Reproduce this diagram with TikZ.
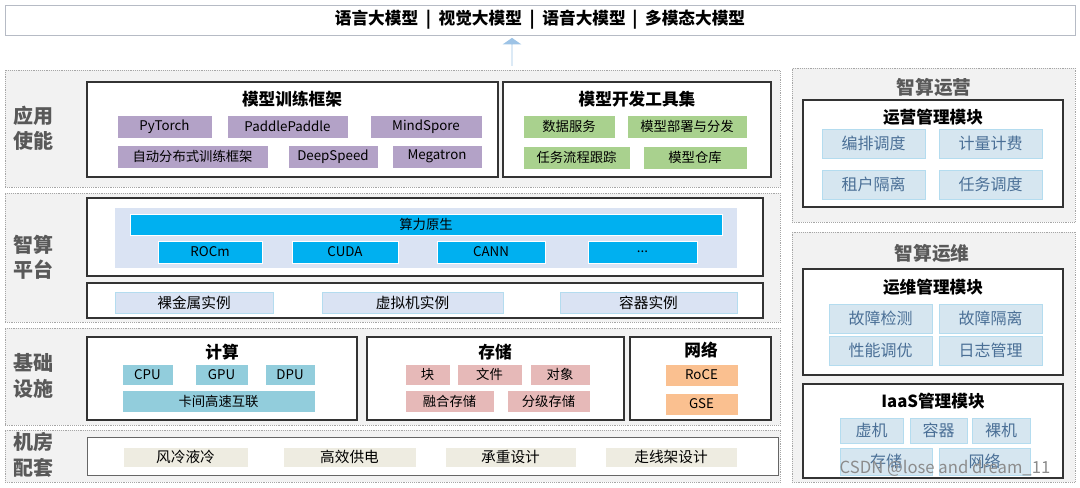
\documentclass[tikz,border=0pt]{standalone}
\usepackage{fontspec}
\setmainfont{Noto Sans CJK SC}
\usetikzlibrary{shapes.arrows}
\definecolor{panel}{HTML}{F2F2F2}
\definecolor{purp}{HTML}{B3A2C7}
\definecolor{grn}{HTML}{A9D18E}
\definecolor{lb}{HTML}{DAE3F3}
\definecolor{cyan}{HTML}{00B0F0}
\definecolor{teal}{HTML}{92CDDC}
\definecolor{pink}{HTML}{E6B9B8}
\definecolor{orng}{HTML}{FAC090}
\definecolor{beige}{HTML}{EEECE1}
\definecolor{ritem}{HTML}{D6E6F0}
\definecolor{rbord}{HTML}{B4DCEF}
\definecolor{rtext}{HTML}{4A6F96}
\definecolor{lab}{HTML}{595959}
\definecolor{arr}{HTML}{9DC3E6}
\tikzset{
 panel/.style={draw=gray!70,densely dotted,fill=panel},
 box/.style={draw=black!80,line width=0.9pt,fill=white},
 it/.style={font=\fontsize{10}{12}\selectfont},
 pu/.style={it,fill=purp,draw=white},
 gr/.style={it,fill=grn,draw=white},
 cy/.style={it,fill=cyan,draw=white},
 lbx/.style={it,fill=lb,draw=rbord,font=\fontsize{11}{13}\selectfont},
 te/.style={it,fill=teal,draw=white},
 pk/.style={it,fill=pink,draw=white},
 og/.style={it,fill=orng,draw=white},
 be/.style={fill=beige,draw=white,font=\fontsize{11}{13}\selectfont},
 ri/.style={fill=ritem,draw=rbord,text=rtext,font=\fontsize{12}{14}\selectfont},
 ttl/.style={font=\bfseries\fontsize{12.5}{14}\selectfont},
 lyr/.style={font=\bfseries\fontsize{15}{19}\selectfont,text=lab,align=center},
 rt/.style={font=\bfseries\fontsize{14}{16}\selectfont,text=lab},
}
\newcommand\bx[7]{\node[#6,inner sep=0pt,minimum width={(#4-#2)*0.75pt},minimum height={(#5-#3)*0.75pt}] (#1) at ({(#2+#4)/2},{(#3+#5)/2}) {#7};}
\begin{document}
\begin{tikzpicture}[x=0.75pt,y=-0.75pt]
\useasboundingbox (0,0) rectangle (1080,488);
% top
\bx{top}{5}{5}{1075}{35}{draw=lb!60!gray,fill=white}{\bfseries\fontsize{12.5}{14}\selectfont 语言大模型 \ | \ 视觉大模型 \ | \ 语音大模型 \,| \ 多模态大模型}
\node[single arrow,shape border rotate=90,fill=arr,draw=none,minimum width=14pt,single arrow head extend=4.5pt,single arrow head indent=0pt,minimum height=21pt,inner sep=0pt,single arrow tip angle=110] (up) at (512,52) {};
% left panels
\bx{p1}{5}{70}{780}{187}{panel}{}
\bx{p2}{5}{193}{780}{322}{panel}{}
\bx{p3}{5}{328}{780}{425}{panel}{}
\bx{p4}{5}{430}{780}{482}{panel}{}
\node[lyr] (l1) at (33,128) {应用\\使能};
\node[lyr] (l2) at (33,257) {智算\\平台};
\node[lyr] (l3) at (33,376) {基础\\设施};
\node[lyr] (l4) at (33,455) {机房\\配套};
% app
\bx{b1}{87}{82}{498}{177}{box}{}
\node[ttl] (t1) at (292,99) {模型训练框架};
\bx{a1}{117}{115}{212}{138}{pu}{PyTorch}
\bx{a2}{227}{115}{348}{138}{pu}{PaddlePaddle}
\bx{a3}{370}{115}{482}{138}{pu}{MindSpore}
\bx{a4}{117}{145}{268}{168}{pu}{自动分布式训练框架}
\bx{a5}{288}{145}{378}{168}{pu}{DeepSpeed}
\bx{a6}{392}{145}{482}{168}{pu}{Megatron}
\bx{b2}{503}{82}{771}{177}{box}{}
\node[ttl] (t2) at (637,99) {模型开发工具集};
\bx{g1}{523}{115}{615}{138}{gr}{数据服务}
\bx{g2}{627}{115}{747}{138}{gr}{模型部署与分发}
\bx{g3}{523}{146}{630}{169}{gr}{任务流程跟踪}
\bx{g4}{643}{146}{747}{169}{gr}{模型仓库}
% platform
\bx{b3}{87}{198}{763}{276}{box}{}
\bx{lp}{115}{208}{737}{268}{fill=lb,draw=none}{}
\bx{c0}{130}{214}{722}{235}{cy}{算力原生}
\bx{c1}{158}{241}{262}{263}{cy}{ROCm}
\bx{c2}{292}{241}{398}{263}{cy}{CUDA}
\bx{c3}{437}{241}{545}{263}{cy}{CANN}
\bx{c4}{588}{241}{697}{263}{cy}{...}
\bx{b4}{87}{283}{763}{318}{box}{}
\bx{i1}{115}{292}{273}{313}{lbx}{裸金属实例}
\bx{i2}{322}{292}{503}{313}{lbx}{虚拟机实例}
\bx{i3}{560}{292}{737}{313}{lbx}{容器实例}
% infra
\bx{b5}{87}{337}{357}{420}{box}{}
\node[ttl] (t5) at (222,352) {计算};
\bx{s1}{122}{364}{173}{385}{te}{CPU}
\bx{s2}{195}{364}{248}{385}{te}{GPU}
\bx{s3}{265}{364}{315}{385}{te}{DPU}
\bx{s4}{122}{390}{315}{412}{te}{卡间高速互联}
\bx{b6}{367}{337}{624}{420}{box}{}
\node[ttl] (t6) at (495,352) {存储};
\bx{k1}{405}{364}{450}{385}{pk}{块}
\bx{k2}{457}{364}{522}{385}{pk}{文件}
\bx{k3}{530}{364}{590}{385}{pk}{对象}
\bx{k4}{405}{390}{494}{412}{pk}{融合存储}
\bx{k5}{507}{390}{590}{412}{pk}{分级存储}
\bx{b7}{630}{337}{771}{420}{box}{}
\node[ttl] (t7) at (701,350) {网络};
\bx{n1}{665}{364}{738}{386}{og}{RoCE}
\bx{n2}{665}{393}{738}{415}{og}{GSE}
% room
\bx{b8}{87}{437}{778}{475}{box,line width=0.6pt,draw=black!60}{}
\bx{r1}{123}{447}{248}{467}{be}{风冷液冷}
\bx{r2}{283}{447}{416}{467}{be}{高效供电}
\bx{r3}{445}{447}{576}{467}{be}{承重设计}
\bx{r4}{605}{447}{737}{467}{be}{走线架设计}
% right
\bx{q1}{792}{68}{1075}{222}{panel}{}
\node[rt] (rt1) at (934,87) {智算运营};
\bx{m1}{803}{100}{1063}{207}{box}{}
\node[ttl] (tm1) at (933,117) {运营管理模块};
\bx{e1}{822}{129}{925}{158}{ri}{编排调度}
\bx{e2}{939}{129}{1042}{158}{ri}{计量计费}
\bx{e3}{822}{170}{925}{199}{ri}{租户隔离}
\bx{e4}{939}{170}{1042}{199}{ri}{任务调度}
\bx{q2}{792}{232}{1075}{482}{panel}{}
\node[rt] (rt2) at (932,253) {智算运维};
\bx{m2}{803}{269}{1063}{375}{box}{}
\node[ttl] (tm2) at (933,287) {运维管理模块};
\bx{f1}{829}{304}{932}{333}{ri}{故障检测}
\bx{f2}{939}{304}{1042}{333}{ri}{故障隔离}
\bx{f3}{829}{336}{932}{365}{ri}{性能调优}
\bx{f4}{939}{336}{1042}{365}{ri}{日志管理}
\bx{m3}{803}{384}{1063}{478}{box}{}
\node[ttl] (tm3) at (933,401) {IaaS管理模块};
\bx{h1}{840}{418}{903}{443}{ri}{虚机}
\bx{h2}{910}{418}{967}{443}{ri}{容器}
\bx{h3}{972}{418}{1030}{443}{ri}{裸机}
\bx{h4}{840}{448}{932}{475}{ri}{存储}
\bx{h5}{939}{448}{1030}{475}{ri}{网络}
\node[text=gray!90,font=\fontsize{12.5}{14}\selectfont] (wm) at (945,468) {CSDN @lose and dream\_11};
\end{tikzpicture}
\end{document}
